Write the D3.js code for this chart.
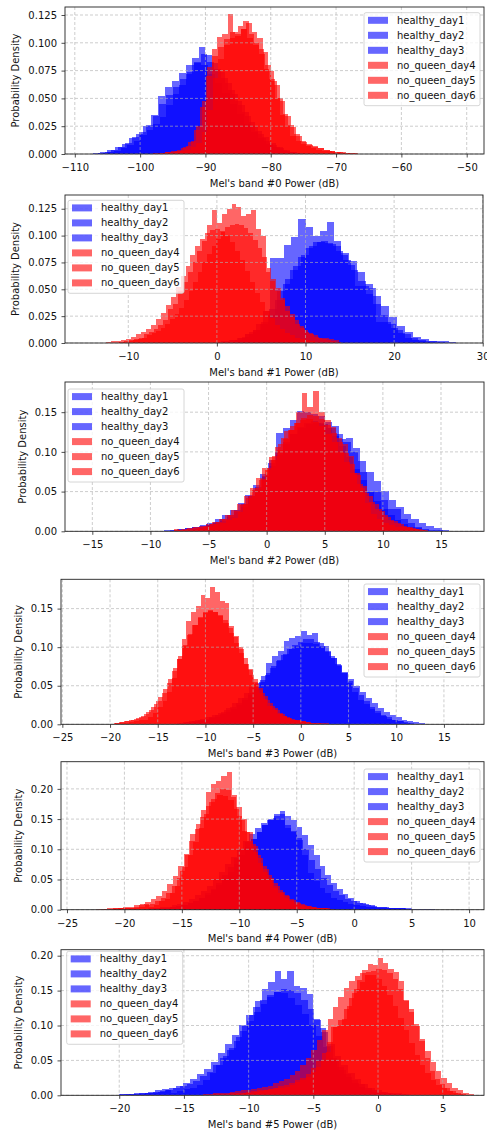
<!DOCTYPE html>
<html>
<head>
<meta charset="utf-8">
<script src="https://cdn.jsdelivr.net/npm/d3@7"></script>
<style>
  body { margin: 0; background: #fff; }
  text { font-family: "DejaVu Sans", sans-serif; }
</style>
</head>
<body>
<svg id="chart" width="487" height="1133"></svg>
<script>
// series names shared by every band
const seriesNames = ["healthy_day1", "healthy_day2", "healthy_day3",
                     "no_queen_day4", "no_queen_day5", "no_queen_day6"];
const seriesColors = ["blue", "blue", "blue", "red", "red", "red"];

// ---- band #0 : first bin edge, bin width, density per bin ----
const band0Start = [-106, -106.5, -107.2, -97, -96.5, -98];
const band0Width = [1.0, 1.05, 1.1, 0.8, 0.85, 0.9];
const band0_h1 = [0.001,0.002,0.003,0.005,0.008,0.012,0.017,0.022,0.027,0.033,0.044,0.054,0.062,0.072,0.086,0.096,0.089,0.082,0.074,0.064,0.054,0.044,0.034,0.025,0.018,0.012,0.008,0.005,0.003,0.002,0.001,0.001];
const band0_h2 = [0.001,0.002,0.004,0.006,0.010,0.015,0.020,0.026,0.034,0.045,0.053,0.060,0.067,0.074,0.082,0.090,0.083,0.076,0.068,0.058,0.048,0.038,0.029,0.021,0.015,0.010,0.006,0.004,0.002,0.001];
const band0_h3 = [0.001,0.002,0.004,0.006,0.009,0.014,0.018,0.025,0.035,0.052,0.060,0.066,0.073,0.080,0.083,0.080,0.072,0.064,0.055,0.045,0.036,0.027,0.020,0.014,0.009,0.006,0.004,0.002,0.001];
const band0_q4 = [0.001,0.002,0.002,0.003,0.005,0.007,0.012,0.025,0.048,0.078,0.094,0.105,0.108,0.126,0.110,0.115,0.120,0.108,0.100,0.094,0.076,0.067,0.050,0.035,0.025,0.016,0.012,0.009,0.007,0.005,0.004,0.003,0.003,0.002,0.002,0.001,0.001,0.001];
const band0_q5 = [0.001,0.001,0.002,0.003,0.004,0.006,0.010,0.020,0.040,0.068,0.085,0.098,0.104,0.108,0.112,0.118,0.110,0.104,0.092,0.075,0.062,0.048,0.034,0.024,0.016,0.011,0.008,0.006,0.005,0.004,0.003,0.002,0.002,0.001,0.001];
const band0_q6 = [0.001,0.001,0.002,0.003,0.004,0.006,0.011,0.022,0.042,0.070,0.088,0.096,0.103,0.110,0.106,0.112,0.104,0.098,0.090,0.080,0.066,0.050,0.036,0.026,0.018,0.012,0.009,0.007,0.005,0.004,0.003,0.002,0.001,0.001];
const band0XTicks = [-110, -100, -90, -80, -70, -60, -50];
const band0YTicks = [0, 0.025, 0.05, 0.075, 0.1, 0.125];

// ---- band #1 ----
const band1Start = [2.0, 1.5, 0.5, -11, -11, -12.5];
const band1Width = [0.8, 0.85, 0.9, 0.55, 0.52, 0.56];
const band1_h1 = [0.003,0.006,0.010,0.018,0.030,0.079,0.079,0.091,0.099,0.115,0.108,0.100,0.104,0.113,0.095,0.082,0.073,0.053,0.053,0.051,0.020,0.020,0.014,0.009,0.005,0.003,0.002,0.001];
const band1_h2 = [0.003,0.005,0.008,0.012,0.018,0.026,0.040,0.055,0.068,0.080,0.088,0.094,0.095,0.092,0.086,0.077,0.068,0.058,0.046,0.036,0.026,0.018,0.012,0.008,0.005,0.003,0.002,0.002,0.002,0.001];
const band1_h3 = [0.002,0.003,0.005,0.008,0.012,0.020,0.032,0.048,0.060,0.072,0.082,0.090,0.094,0.093,0.090,0.084,0.076,0.066,0.055,0.044,0.034,0.024,0.016,0.010,0.006,0.004,0.002,0.001];
const band1_q4 = [0.001,0.002,0.003,0.004,0.005,0.008,0.010,0.013,0.017,0.021,0.032,0.036,0.048,0.057,0.066,0.075,0.086,0.095,0.110,0.124,0.112,0.120,0.125,0.129,0.127,0.118,0.120,0.124,0.106,0.100,0.066,0.058,0.048,0.040,0.030,0.024,0.018,0.014,0.010,0.008,0.006,0.005,0.005,0.004,0.003];
const band1_q5 = [0.001,0.001,0.002,0.003,0.004,0.005,0.007,0.009,0.011,0.014,0.018,0.022,0.027,0.033,0.040,0.048,0.057,0.066,0.075,0.083,0.090,0.097,0.103,0.108,0.110,0.111,0.110,0.107,0.102,0.096,0.088,0.080,0.070,0.060,0.051,0.042,0.034,0.027,0.021,0.016,0.012,0.009,0.007,0.005,0.004,0.003,0.002,0.001];
const band1_q6 = [0.001,0.002,0.002,0.003,0.004,0.006,0.008,0.010,0.013,0.017,0.022,0.028,0.035,0.043,0.052,0.062,0.072,0.082,0.090,0.097,0.102,0.105,0.106,0.104,0.100,0.094,0.086,0.077,0.067,0.057,0.047,0.038,0.030,0.023,0.017,0.013,0.009,0.007,0.005,0.004,0.003,0.002,0.001];
const band1XTicks = [-10, 0, 10, 20, 30];
const band1YTicks = [0, 0.025, 0.05, 0.075, 0.1, 0.125];

// ---- band #2 ----
const band2Start = [-7, -9, -10, -8, -8.5, -9];
const band2Width = [0.6, 0.65, 0.6, 0.5, 0.52, 0.54];
const band2_h1 = [0.002,0.003,0.004,0.008,0.010,0.013,0.018,0.024,0.030,0.045,0.053,0.070,0.090,0.124,0.130,0.140,0.152,0.150,0.148,0.145,0.138,0.133,0.116,0.118,0.105,0.075,0.050,0.049,0.040,0.028,0.028,0.016,0.010,0.006,0.003,0.002,0.002,0.001];
const band2_h2 = [0.001,0.002,0.003,0.004,0.006,0.008,0.011,0.015,0.020,0.027,0.036,0.046,0.058,0.072,0.086,0.100,0.112,0.122,0.130,0.135,0.137,0.135,0.130,0.122,0.112,0.100,0.088,0.075,0.063,0.051,0.040,0.030,0.022,0.016,0.011,0.007,0.004,0.002,0.001];
const band2_h3 = [0.001,0.001,0.002,0.002,0.003,0.004,0.005,0.007,0.009,0.012,0.016,0.021,0.027,0.035,0.045,0.056,0.068,0.082,0.096,0.110,0.122,0.131,0.137,0.139,0.136,0.130,0.120,0.107,0.093,0.078,0.064,0.050,0.038,0.028,0.020,0.014,0.009,0.006,0.004,0.002,0.001];
const band2_q4 = [0.0025,0.002,0.002,0.002,0.003,0.005,0.007,0.009,0.011,0.014,0.017,0.024,0.034,0.045,0.055,0.066,0.080,0.095,0.110,0.126,0.133,0.150,0.174,0.156,0.177,0.150,0.140,0.131,0.118,0.110,0.095,0.074,0.055,0.036,0.022,0.015,0.011,0.008,0.006,0.005,0.004,0.003,0.002,0.001];
const band2_q5 = [0.001,0.002,0.002,0.003,0.004,0.005,0.007,0.009,0.012,0.015,0.020,0.026,0.033,0.042,0.052,0.064,0.077,0.090,0.103,0.116,0.127,0.136,0.143,0.146,0.145,0.141,0.134,0.124,0.112,0.099,0.085,0.071,0.057,0.045,0.034,0.025,0.018,0.013,0.009,0.006,0.004,0.003,0.002,0.001];
const band2_q6 = [0.001,0.001,0.002,0.003,0.004,0.005,0.007,0.009,0.012,0.016,0.021,0.027,0.035,0.044,0.055,0.067,0.080,0.093,0.106,0.118,0.128,0.136,0.140,0.141,0.138,0.132,0.123,0.112,0.100,0.087,0.073,0.060,0.048,0.037,0.028,0.020,0.014,0.010,0.007,0.005,0.003,0.002,0.001];
const band2XTicks = [-15, -10, -5, 0, 5, 10, 15];
const band2YTicks = [0, 0.05, 0.1, 0.15];

// ---- band #3 ----
const band3Start = [-12, -13, -12.5, -23, -19.6, -20];
const band3Width = [0.6, 0.62, 0.58, 0.5, 0.52, 0.54];
const band3_h1 = [0.003,0.004,0.005,0.007,0.009,0.012,0.016,0.021,0.027,0.034,0.041,0.048,0.053,0.062,0.080,0.089,0.095,0.108,0.112,0.115,0.121,0.116,0.119,0.106,0.102,0.089,0.078,0.066,0.054,0.042,0.032,0.026,0.020,0.015,0.011,0.007,0.006,0.004,0.002,0.001,0.001,0.001,0.001,0.001,0.001];
const band3_h2 = [0.002,0.003,0.004,0.005,0.007,0.009,0.012,0.015,0.019,0.023,0.028,0.034,0.041,0.049,0.058,0.067,0.076,0.084,0.091,0.097,0.102,0.105,0.106,0.104,0.100,0.094,0.086,0.077,0.068,0.059,0.050,0.042,0.034,0.027,0.021,0.016,0.012,0.009,0.006,0.004,0.003,0.002,0.001];
const band3_h3 = [0.002,0.002,0.003,0.004,0.006,0.008,0.010,0.013,0.016,0.020,0.025,0.031,0.038,0.046,0.055,0.064,0.073,0.082,0.090,0.097,0.103,0.107,0.110,0.110,0.107,0.102,0.095,0.086,0.076,0.066,0.056,0.047,0.038,0.030,0.023,0.017,0.012,0.009,0.006,0.004,0.003,0.002,0.001];
const band3_q4 = [0.001,0.001,0.001,0.001,0.001,0.001,0.001,0.002,0.002,0.002,0.003,0.004,0.005,0.006,0.009,0.015,0.022,0.030,0.042,0.060,0.085,0.110,0.134,0.146,0.154,0.167,0.164,0.178,0.171,0.160,0.157,0.127,0.114,0.097,0.078,0.070,0.055,0.045,0.033,0.024,0.018,0.014,0.011,0.008,0.006,0.005,0.004,0.003,0.002,0.002,0.002,0.002,0.001];
const band3_q5 = [0.002,0.003,0.004,0.005,0.007,0.010,0.014,0.019,0.026,0.035,0.046,0.059,0.073,0.088,0.103,0.117,0.129,0.138,0.144,0.147,0.146,0.142,0.135,0.125,0.113,0.100,0.086,0.072,0.059,0.047,0.037,0.028,0.021,0.015,0.011,0.008,0.006,0.004,0.003,0.002,0.001];
const band3_q6 = [0.001,0.002,0.003,0.004,0.006,0.008,0.011,0.016,0.022,0.030,0.041,0.054,0.069,0.085,0.101,0.116,0.129,0.139,0.145,0.148,0.146,0.140,0.131,0.119,0.106,0.092,0.078,0.064,0.052,0.041,0.032,0.024,0.018,0.013,0.010,0.007,0.005,0.004,0.003,0.002,0.002,0.001];
const band3XTicks = [-25, -20, -15, -10, -5, 0, 5, 10, 15];
const band3YTicks = [0, 0.05, 0.1, 0.15];

// ---- band #4 ----
const band4Start = [-17, -18.5, -18, -21, -22, -22.5];
const band4Width = [0.5, 0.52, 0.5, 0.45, 0.47, 0.48];
const band4_h1 = [0.002,0.003,0.004,0.006,0.008,0.011,0.015,0.020,0.027,0.035,0.045,0.057,0.070,0.085,0.100,0.112,0.117,0.128,0.140,0.150,0.158,0.163,0.135,0.128,0.118,0.090,0.060,0.047,0.036,0.027,0.020,0.016,0.012,0.010,0.008,0.006,0.005,0.004,0.003,0.003,0.002,0.002,0.002,0.002,0.001,0.001,0.001,0.001];
const band4_h2 = [0.001,0.002,0.003,0.004,0.005,0.007,0.010,0.013,0.018,0.024,0.031,0.040,0.050,0.062,0.075,0.088,0.101,0.114,0.126,0.136,0.144,0.149,0.151,0.148,0.141,0.130,0.116,0.100,0.083,0.067,0.053,0.041,0.031,0.024,0.018,0.014,0.011,0.009,0.007,0.005,0.004,0.003,0.002,0.002,0.001];
const band4_h3 = [0.001,0.002,0.002,0.003,0.004,0.006,0.008,0.011,0.014,0.019,0.025,0.032,0.041,0.051,0.063,0.076,0.090,0.104,0.117,0.129,0.140,0.149,0.155,0.158,0.155,0.148,0.137,0.123,0.107,0.090,0.073,0.058,0.045,0.034,0.026,0.019,0.014,0.011,0.008,0.006,0.005,0.004,0.003,0.002,0.002,0.001];
const band4_q4 = [0.003,0.002,0.003,0.002,0.002,0.008,0.010,0.004,0.008,0.014,0.018,0.028,0.040,0.064,0.090,0.125,0.142,0.165,0.195,0.208,0.213,0.222,0.228,0.190,0.155,0.130,0.113,0.095,0.078,0.062,0.050,0.036,0.027,0.019,0.014,0.009,0.006,0.004,0.003,0.002,0.002,0.002,0.001];
const band4_q5 = [0.001,0.001,0.001,0.002,0.002,0.003,0.004,0.005,0.007,0.010,0.014,0.020,0.028,0.039,0.053,0.070,0.090,0.112,0.135,0.158,0.178,0.193,0.200,0.198,0.187,0.170,0.150,0.128,0.106,0.086,0.068,0.053,0.040,0.030,0.022,0.016,0.011,0.008,0.006,0.004,0.003,0.002,0.001];
const band4_q6 = [0.001,0.001,0.002,0.002,0.003,0.004,0.005,0.007,0.009,0.012,0.017,0.023,0.031,0.042,0.056,0.073,0.092,0.113,0.134,0.154,0.171,0.184,0.190,0.189,0.181,0.167,0.149,0.129,0.109,0.090,0.072,0.057,0.044,0.033,0.025,0.018,0.013,0.009,0.006,0.004,0.003,0.002,0.001];
const band4XTicks = [-25, -20, -15, -10, -5, 0, 5, 10];
const band4YTicks = [0, 0.05, 0.1, 0.15, 0.2];

// ---- band #5 ----
const band5Start = [-23, -20, -21, -12, -14, -14.4];
const band5Width = [0.5, 0.52, 0.54, 0.4, 0.42, 0.42];
const band5_h1 = [0.001,0.001,0.001,0.001,0.001,0.001,0.002,0.002,0.002,0.002,0.003,0.003,0.005,0.007,0.004,0.006,0.009,0.011,0.015,0.022,0.032,0.044,0.056,0.068,0.084,0.100,0.115,0.135,0.152,0.162,0.178,0.166,0.178,0.157,0.154,0.145,0.110,0.097,0.070,0.050,0.036,0.026,0.018,0.012,0.008,0.005,0.004,0.003,0.002,0.002,0.001];
const band5_h2 = [0.001,0.002,0.002,0.003,0.004,0.005,0.006,0.008,0.010,0.013,0.016,0.021,0.027,0.034,0.043,0.053,0.065,0.078,0.092,0.106,0.119,0.131,0.141,0.148,0.152,0.151,0.146,0.137,0.124,0.108,0.090,0.073,0.057,0.043,0.032,0.023,0.016,0.011,0.008,0.005,0.004,0.003,0.002,0.001];
const band5_h3 = [0.001,0.001,0.002,0.002,0.003,0.004,0.005,0.007,0.009,0.011,0.014,0.018,0.023,0.030,0.038,0.048,0.060,0.073,0.087,0.101,0.115,0.127,0.137,0.144,0.148,0.146,0.140,0.130,0.117,0.101,0.085,0.069,0.054,0.041,0.031,0.022,0.016,0.011,0.008,0.005,0.003,0.002,0.001];
const band5_q4 = [0.001,0.001,0.002,0.002,0.003,0.004,0.005,0.006,0.008,0.009,0.010,0.011,0.012,0.015,0.019,0.022,0.026,0.033,0.040,0.050,0.062,0.098,0.100,0.110,0.128,0.147,0.165,0.180,0.188,0.186,0.197,0.190,0.181,0.176,0.164,0.135,0.124,0.102,0.078,0.054,0.035,0.023,0.016,0.010,0.006,0.003,0.002];
const band5_q5 = [0.001,0.001,0.001,0.002,0.002,0.002,0.003,0.003,0.004,0.005,0.006,0.007,0.008,0.009,0.011,0.013,0.015,0.018,0.022,0.025,0.031,0.039,0.049,0.060,0.077,0.098,0.108,0.124,0.139,0.152,0.163,0.172,0.178,0.181,0.180,0.175,0.166,0.153,0.137,0.119,0.100,0.081,0.064,0.048,0.035,0.025,0.017,0.011,0.007,0.004,0.002,0.001];
const band5_q6 = [0.001,0.001,0.002,0.002,0.003,0.003,0.004,0.005,0.006,0.007,0.008,0.009,0.010,0.012,0.014,0.017,0.020,0.024,0.029,0.035,0.043,0.053,0.065,0.079,0.094,0.110,0.126,0.141,0.154,0.164,0.171,0.175,0.176,0.173,0.166,0.156,0.143,0.128,0.111,0.093,0.075,0.058,0.044,0.032,0.022,0.015,0.010,0.006,0.003,0.002,0.001];
const band5XTicks = [-20, -15, -10, -5, 0, 5];
const band5YTicks = [0, 0.05, 0.1, 0.15, 0.2];

const bands = [
  { label: "Mel's band #0 Power (dB)", start: band0Start, width: band0Width,
    density: [band0_h1, band0_h2, band0_h3, band0_q4, band0_q5, band0_q6], xTicks: band0XTicks, yTicks: band0YTicks },
  { label: "Mel's band #1 Power (dB)", start: band1Start, width: band1Width,
    density: [band1_h1, band1_h2, band1_h3, band1_q4, band1_q5, band1_q6], xTicks: band1XTicks, yTicks: band1YTicks },
  { label: "Mel's band #2 Power (dB)", start: band2Start, width: band2Width,
    density: [band2_h1, band2_h2, band2_h3, band2_q4, band2_q5, band2_q6], xTicks: band2XTicks, yTicks: band2YTicks },
  { label: "Mel's band #3 Power (dB)", start: band3Start, width: band3Width,
    density: [band3_h1, band3_h2, band3_h3, band3_q4, band3_q5, band3_q6], xTicks: band3XTicks, yTicks: band3YTicks },
  { label: "Mel's band #4 Power (dB)", start: band4Start, width: band4Width,
    density: [band4_h1, band4_h2, band4_h3, band4_q4, band4_q5, band4_q6], xTicks: band4XTicks, yTicks: band4YTicks },
  { label: "Mel's band #5 Power (dB)", start: band5Start, width: band5Width,
    density: [band5_h1, band5_h2, band5_h3, band5_q4, band5_q5, band5_q6], xTicks: band5XTicks, yTicks: band5YTicks }
];

// layout: axes boxes (px), axis limits and legend placement
const layout = [
  { left: 65, right: 484, top: 7,     bottom: 154,    xDom: [-111.5, -47.35], yDom: [0, 0.1322], yFmt: ".3f", legX: 364,  legY: 12.7 },
  { left: 65, right: 483, top: 195,   bottom: 343,    xDom: [-17.14, 30.03],  yDom: [0, 0.1378], yFmt: ".3f", legX: 68,   legY: 200.3 },
  { left: 65, right: 484, top: 382,   bottom: 531.3,  xDom: [-17.35, 18.7],   yDom: [0, 0.188],  yFmt: ".2f", legX: 68,   legY: 389 },
  { left: 61, right: 484, top: 579.3, bottom: 724.3,  xDom: [-25.14, 19.2],   yDom: [0, 0.188],  yFmt: ".2f", legX: 364,  legY: 584 },
  { left: 61, right: 484, top: 761.7, bottom: 909.7,  xDom: [-25.52, 11.3],   yDom: [0, 0.245],  yFmt: ".2f", legX: 364,  legY: 769 },
  { left: 61, right: 484, top: 949.7, bottom: 1095.3, xDom: [-24.5, 8.19],    yDom: [0, 0.2086], yFmt: ".2f", legX: 66.7, legY: 951.3 }
];

const svg = d3.select("#chart");
svg.append("rect").attr("width", 487).attr("height", 1133).attr("fill", "#fff");

const minus = s => s.replace(/-/g, "\u2212");

bands.forEach((band, p) => {
  const L = layout[p];
  const x = d3.scaleLinear().domain(L.xDom).range([L.left, L.right]);
  const y = d3.scaleLinear().domain(L.yDom).range([L.bottom, L.top]);

  const g = svg.append("g");
  g.append("clipPath").attr("id", "clip" + p)
    .append("rect")
    .attr("x", L.left).attr("y", L.top)
    .attr("width", L.right - L.left).attr("height", L.bottom - L.top);

  // histogram bars, healthy first then no_queen on top
  const bars = g.append("g").attr("clip-path", `url(#clip${p})`);
  band.density.forEach((dens, s) => {
    const lo = band.start[s], w = band.width[s];
    bars.append("g")
      .attr("fill", seriesColors[s])
      .attr("fill-opacity", 0.6)
      .selectAll("rect")
      .data(dens)
      .join("rect")
      .attr("x", (d, i) => x(lo + i * w))
      .attr("width", (d, i) => x(lo + (i + 1) * w) - x(lo + i * w))
      .attr("y", d => y(d))
      .attr("height", d => y(0) - y(d))
      .attr("shape-rendering", "crispEdges");
  });

  // dashed grid on top of the bars
  const grid = g.append("g")
    .attr("stroke", "#b0b0b0").attr("stroke-width", 0.8)
    .attr("stroke-dasharray", "3,2").attr("stroke-opacity", 0.8);
  grid.selectAll(".gx").data(band.xTicks).join("line")
    .attr("x1", d => x(d)).attr("x2", d => x(d))
    .attr("y1", L.top).attr("y2", L.bottom);
  grid.selectAll(".gy").data(band.yTicks).join("line")
    .attr("x1", L.left).attr("x2", L.right)
    .attr("y1", d => y(d)).attr("y2", d => y(d));

  // axes
  const xAxis = g.append("g")
    .attr("transform", `translate(0,${L.bottom})`)
    .call(d3.axisBottom(x).tickValues(band.xTicks).tickSize(3.5).tickPadding(6.5)
      .tickFormat(d => minus(d3.format("d")(d))));
  const yAxis = g.append("g")
    .attr("transform", `translate(${L.left},0)`)
    .call(d3.axisLeft(y).tickValues(band.yTicks).tickSize(3.5).tickPadding(4.5)
      .tickFormat(d3.format(L.yFmt)));
  [xAxis, yAxis].forEach(a => {
    a.select(".domain").remove();
    a.selectAll("line").attr("stroke", "#222").attr("stroke-width", 0.8);
    a.selectAll("text").attr("font-size", 10).attr("fill", "#111")
      .attr("font-family", "DejaVu Sans, sans-serif");
  });

  // spines
  g.append("rect")
    .attr("x", L.left).attr("y", L.top)
    .attr("width", L.right - L.left).attr("height", L.bottom - L.top)
    .attr("fill", "none").attr("stroke", "#222").attr("stroke-width", 0.9);

  // axis labels
  g.append("text")
    .attr("x", (L.left + L.right) / 2).attr("y", L.bottom + 32.5)
    .attr("text-anchor", "middle").attr("font-size", 10).attr("fill", "#111")
    .text(band.label);

  const yb = yAxis.node().getBBox();
  const ylx = L.left + yb.x - 12.5;
  g.append("text")
    .attr("transform", `translate(${ylx},${(L.top + L.bottom) / 2}) rotate(-90)`)
    .attr("text-anchor", "middle").attr("dy", "0.35em")
    .attr("font-size", 10).attr("fill", "#111")
    .text("Probability Density");

  // legend
  const leg = g.append("g").attr("transform", `translate(${L.legX},${L.legY})`);
  leg.append("rect")
    .attr("width", 116).attr("height", 93).attr("rx", 2)
    .attr("fill", "#fff").attr("fill-opacity", 0.8)
    .attr("stroke", "#cccccc").attr("stroke-width", 0.8);
  const rows = leg.selectAll(".row").data(seriesNames).join("g")
    .attr("transform", (d, i) => `translate(4,${7.6 + i * 15})`);
  rows.append("rect")
    .attr("y", -3.5).attr("width", 20).attr("height", 7)
    .attr("fill", (d, i) => seriesColors[i]).attr("fill-opacity", 0.6);
  rows.append("text")
    .attr("x", 29).attr("dy", "0.35em")
    .attr("font-size", 10).attr("fill", "#111")
    .text(d => d);
});
</script>
</body>
</html>
